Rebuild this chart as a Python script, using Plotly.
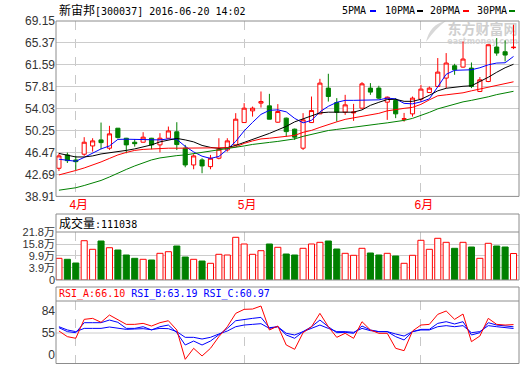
import plotly.graph_objects as go

W, H = 520, 365

# ---------------- data ----------------
DATES = [
    "2016-03-30", "2016-03-31",
    "2016-04-01", "2016-04-05", "2016-04-06", "2016-04-07", "2016-04-08",
    "2016-04-11", "2016-04-12", "2016-04-13", "2016-04-14", "2016-04-15",
    "2016-04-18", "2016-04-19", "2016-04-20", "2016-04-21", "2016-04-22",
    "2016-04-25", "2016-04-26", "2016-04-27", "2016-04-28", "2016-04-29",
    "2016-05-03", "2016-05-04", "2016-05-05", "2016-05-06",
    "2016-05-09", "2016-05-10", "2016-05-11", "2016-05-12", "2016-05-13",
    "2016-05-16", "2016-05-17", "2016-05-18", "2016-05-19", "2016-05-20",
    "2016-05-23", "2016-05-24", "2016-05-25", "2016-05-26", "2016-05-27",
    "2016-05-30", "2016-05-31",
    "2016-06-01", "2016-06-02", "2016-06-03", "2016-06-06", "2016-06-07",
    "2016-06-08", "2016-06-13", "2016-06-14", "2016-06-15", "2016-06-16",
    "2016-06-17", "2016-06-20",
]

OPEN = [43.76, 46.06, 45.19, 46.18, 47.61, 48.65, 47.22, 50.67, 48.94, 48.25,
        48.25, 48.94, 47.79, 48.94, 50.05, 47.22, 44.33, 45.20, 44.04, 45.49,
        46.92, 47.79, 51.64, 53.66, 54.99, 54.52, 51.70, 52.40, 50.50, 47.22,
        51.64, 53.14, 57.58, 55.09, 53.43, 53.30, 54.12, 57.58, 57.58, 55.16,
        55.44, 52.20, 53.14, 55.68, 56.82, 57.86, 59.31, 61.43, 61.20, 61.03,
        57.00, 58.72, 64.66, 63.85, 64.55]
HIGH = [46.35, 46.46, 45.90, 49.12, 48.94, 51.64, 51.07, 50.70, 49.00, 48.77,
        49.98, 49.00, 49.81, 50.95, 51.70, 47.79, 46.18, 45.49, 46.06, 48.94,
        48.94, 53.26, 54.99, 54.40, 57.00, 56.59, 54.82, 52.50, 50.60, 53.26,
        56.13, 59.18, 60.05, 55.85, 56.42, 54.86, 58.61, 58.44, 57.98, 56.13,
        55.85, 53.30, 56.13, 58.15, 57.86, 62.76, 63.62, 61.77, 65.63, 62.00,
        59.48, 65.10, 66.21, 65.80, 68.51]
LOW = [43.30, 44.67, 43.47, 45.90, 46.63, 47.04, 46.92, 48.90, 46.35, 47.49,
       48.20, 47.04, 46.50, 48.90, 46.90, 43.93, 43.59, 42.90, 43.59, 45.30,
       46.63, 47.70, 51.60, 52.67, 54.23, 52.20, 51.60, 49.22, 48.65, 46.92,
       51.60, 53.10, 55.26, 51.81, 52.97, 51.93, 54.00, 56.42, 55.68, 52.10,
       52.40, 51.80, 52.67, 55.26, 56.80, 57.80, 57.58, 59.88, 61.10, 57.58,
       56.90, 58.60, 63.16, 62.17, 64.30]
CLOSE = [45.89, 45.07, 44.90, 48.25, 48.48, 48.18, 49.69, 49.05, 47.79, 48.00,
         49.12, 47.79, 48.94, 50.20, 47.85, 44.33, 45.89, 44.16, 45.49, 47.04,
         48.48, 52.22, 54.12, 54.12, 55.26, 52.22, 53.54, 50.08, 49.12, 52.10,
         53.71, 58.44, 56.13, 53.43, 54.69, 53.45, 58.32, 56.89, 55.85, 56.02,
         53.14, 52.30, 55.85, 57.41, 57.58, 60.34, 61.90, 60.74, 62.59, 57.86,
         59.01, 65.06, 63.62, 63.28, 64.62]

MA5 = [45.32, 45.14, 44.97, 45.63, 46.32, 47.10, 47.61, 48.74, 48.77, 48.74,
       48.65, 48.56, 48.65, 48.82, 48.74, 47.53, 46.58, 45.84, 45.46, 45.80,
       47.01, 48.39, 50.20, 51.67, 53.05, 53.75, 53.83, 53.49, 52.36, 51.59,
       52.02, 53.49, 54.44, 55.13, 55.47, 55.47, 55.47, 55.47, 55.56, 55.85,
       55.73, 54.95, 54.87, 55.21, 55.73, 57.80, 59.96, 60.65, 60.74, 60.74,
       61.09, 61.60, 61.90, 61.95, 63.04]
MA10 = [46.32, 45.97, 45.71, 45.71, 45.89, 46.23, 46.41, 46.66, 46.84, 47.10,
        47.44, 47.79, 48.31, 48.65, 48.91, 48.65, 48.31, 47.70, 47.36, 47.18,
        47.32, 47.70, 48.22, 48.65, 49.26, 49.77, 50.38, 50.98, 51.76, 52.28,
        52.80, 53.31, 53.43, 53.43, 53.43, 53.43, 53.83, 54.61, 55.13, 55.61,
        55.65, 55.30, 55.30, 55.65, 56.34, 57.11, 57.55, 57.75, 57.89, 57.98,
        58.67, 59.45, 60.31, 61.09, 61.69]
MA20 = [42.61, 42.95, 43.38, 43.81, 44.28, 44.85, 45.46, 46.06, 46.49, 46.84,
        47.01, 47.10, 47.18, 47.22, 47.22, 47.22, 47.22, 47.22, 47.22, 47.22,
        47.30, 47.44, 48.05, 48.48, 48.82, 48.94, 49.08, 49.26, 49.43, 49.95,
        50.29, 50.81, 51.33, 51.76, 52.19, 52.45, 52.71, 52.97, 53.23, 53.66,
        53.92, 54.09, 54.26, 54.78, 55.56, 56.25, 56.42, 56.60, 56.77, 57.11,
        57.41, 57.80, 58.06, 58.32, 58.67]
MA30 = [39.98, 40.19, 40.40, 40.79, 41.22, 41.66, 42.26, 42.95, 43.56, 44.16,
        44.68, 45.20, 45.54, 45.80, 45.94, 46.06, 46.28, 46.49, 46.66, 46.84,
        47.10, 47.37, 47.61, 47.87, 48.10, 48.22, 48.39, 48.60, 48.82, 49.26,
        49.60, 49.95, 50.27, 50.46, 50.67, 50.86, 51.03, 51.21, 51.41, 51.59,
        51.76, 52.02, 52.36, 52.83, 53.40, 54.00, 54.44, 54.83, 55.21, 55.47,
        55.73, 56.08, 56.46, 56.77, 57.03]

# volume in 万 (10k lots)
VOLUME = [8.71, 8.22, 6.38, 17.47, 13.19, 17.32, 13.99, 12.85, 10.36, 8.71,
          8.22, 7.87, 11.20, 12.00, 14.84, 9.36, 8.22, 7.37, 6.23, 10.71,
          10.36, 19.16, 15.83, 10.71, 12.50, 15.83, 14.19, 10.86, 10.36, 13.69,
          15.83, 16.67, 17.32, 13.34, 11.20, 10.21, 13.69, 11.35, 10.36, 11.20,
          9.86, 6.23, 10.21, 17.67, 13.19, 18.66, 16.67, 13.69, 16.67, 14.34,
          8.71, 16.18, 14.84, 14.34, 11.10]

RSI_A = [57.6, 50.2, 48.0, 73.0, 74.3, 69.1, 78.7, 73.0, 66.4, 66.4,
         67.7, 64.2, 68.6, 71.2, 59.0, 20.3, 34.8, 24.7, 34.8, 50.2,
         63.3, 80.9, 86.2, 86.6, 90.6, 59.0, 64.2, 39.2, 33.5, 55.4,
         63.3, 80.9, 63.3, 49.3, 54.6, 48.0, 69.9, 59.0, 54.6, 54.6,
         34.8, 31.7, 57.6, 65.5, 66.4, 79.6, 84.0, 73.0, 80.0, 43.6,
         51.0, 74.3, 66.4, 65.5, 66.10]
RSI_B = [62.0, 56.8, 55.4, 68.6, 68.6, 68.6, 72.1, 69.1, 61.1, 61.1,
         63.3, 59.0, 63.3, 65.5, 55.4, 39.2, 44.4, 39.2, 44.4, 53.2,
         61.1, 71.2, 73.0, 74.3, 75.6, 62.0, 63.3, 52.4, 48.0, 56.8,
         63.3, 72.1, 63.3, 55.4, 55.9, 54.6, 64.2, 59.0, 56.8, 56.8,
         50.2, 45.8, 56.8, 59.8, 59.8, 67.7, 69.9, 66.9, 69.9, 52.4,
         55.4, 68.6, 65.5, 64.7, 63.19]
RSI_C = [63.3, 59.0, 56.8, 61.1, 61.1, 61.1, 62.9, 61.1, 59.8, 60.3,
         60.7, 59.4, 61.1, 60.7, 56.8, 49.3, 49.3, 47.1, 49.3, 53.7,
         57.6, 63.3, 65.5, 66.4, 67.3, 61.1, 63.3, 54.6, 52.4, 56.8,
         61.1, 65.5, 61.1, 56.8, 56.8, 55.9, 61.1, 58.1, 56.8, 56.8,
         53.7, 51.0, 56.8, 59.0, 59.0, 63.3, 64.7, 63.3, 64.7, 55.4,
         56.8, 64.7, 63.3, 62.5, 60.97]

PRICE_TICKS = [38.91, 42.69, 46.47, 50.25, 54.03, 57.81, 61.59, 65.37, 69.15]
VOL_TICK_VALS = [21.8, 15.8, 9.9, 3.9, -2.07]
VOL_TICK_TEXT = ["21.8万", "15.8万", "9.9万", "3.9万", "0"]
RSI_TICK_VALS = [84, 55, 26]
RSI_TICK_TEXT = ["84", "55", "0"]
MONTH_TICKS = ["2016-04-01", "2016-05-03", "2016-06-01"]
MONTH_TEXT = ["4月", "5月", "6月"]

TITLE = "新宙邦[300037] 2016-06-20 14:02"
VOL_TITLE = "成交量"
LAST_VOL = "111038"

# ---------------- style ----------------
RED = "#ff0000"
GREEN = "#008000"
BLUE = "#0000ff"
BLACK = "#000000"
GRID = "#cccccc"
BORDER = "#8c8c8c"
TXT = "#333333"
MONO = "DejaVu Sans Mono, Noto Sans CJK SC, monospace"
SANS = "Liberation Sans, Arial, Noto Sans CJK SC, sans-serif"


def px(x):
    return x / W


def py(y):
    return 1 - y / H


X0, X1 = px(56), px(519)
VOL_FLOOR = VOL_TICK_VALS[-1]

up = [c >= o for o, c in zip(OPEN, CLOSE)]

fig = go.Figure()

fig.add_trace(go.Candlestick(
    x=DATES, open=OPEN, high=HIGH, low=LOW, close=CLOSE,
    increasing=dict(line=dict(color=RED, width=1), fillcolor="#ffffff"),
    decreasing=dict(line=dict(color=GREEN, width=1), fillcolor=GREEN),
    whiskerwidth=0, showlegend=False, xaxis="x", yaxis="y", name="K"))

for name, vals, col in [("5PMA", MA5, BLUE), ("10PMA", MA10, BLACK),
                        ("20PMA", MA20, RED), ("30PMA", MA30, GREEN)]:
    fig.add_trace(go.Scatter(x=DATES, y=vals, mode="lines", name=name,
                             line=dict(color=col, width=1), showlegend=False,
                             xaxis="x", yaxis="y"))

fig.add_trace(go.Bar(
    x=DATES, y=[v - VOL_FLOOR for v in VOLUME], base=VOL_FLOOR, width=0.72,
    marker=dict(color=["#ffffff" if u else GREEN for u in up],
                line=dict(color=[RED if u else GREEN for u in up], width=1)),
    showlegend=False, xaxis="x2", yaxis="y2", name="VOL"))

for name, vals, col in [("RSI_C", RSI_C, BLUE), ("RSI_B", RSI_B, BLUE),
                        ("RSI_A", RSI_A, RED)]:
    fig.add_trace(go.Scatter(x=DATES, y=vals, mode="lines", name=name,
                             line=dict(color=col, width=1), showlegend=False,
                             xaxis="x3", yaxis="y3"))

xcommon = dict(type="category", range=[-0.35, 54.65], domain=[X0, X1],
               tickvals=MONTH_TICKS, showgrid=True, gridcolor="#c8c8c8",
               griddash="dash", gridwidth=1, zeroline=False, showline=False,
               ticks="", fixedrange=True, automargin=False)

fig.update_layout(
    width=W, height=H, margin=dict(l=0, r=0, t=0, b=0, pad=0, autoexpand=False),
    paper_bgcolor="#ffffff", plot_bgcolor="#ffffff", showlegend=False,
    bargap=0,
    xaxis=dict(**xcommon, anchor="y", ticktext=MONTH_TEXT,
               tickfont=dict(family=SANS, size=12, color=RED),
               rangeslider=dict(visible=False), ticklabelshift=3),
    xaxis2=dict(**xcommon, anchor="y2", matches="x", showticklabels=False),
    xaxis3=dict(**xcommon, anchor="y3", matches="x", showticklabels=False),
    yaxis=dict(domain=[py(196.4), py(21)], range=[PRICE_TICKS[0], PRICE_TICKS[-1]],
               tickvals=PRICE_TICKS, ticktext=["%.2f" % v for v in PRICE_TICKS],
               showgrid=True, gridcolor=GRID, zeroline=False, showline=False,
               ticks="", tickfont=dict(family=SANS, size=12, color=TXT),
               anchor="x", fixedrange=True, automargin=False),
    yaxis2=dict(domain=[py(280), py(232)], range=[VOL_FLOOR, VOL_TICK_VALS[0]],
                tickvals=VOL_TICK_VALS, ticktext=VOL_TICK_TEXT,
                showgrid=True, gridcolor=GRID, zeroline=False, showline=False,
                ticks="", tickfont=dict(family=SANS, size=11, color=TXT),
                anchor="x2", fixedrange=True, automargin=False),
    yaxis3=dict(domain=[py(363), py(301)], range=[15.45, 97.2],
                tickvals=RSI_TICK_VALS, ticktext=RSI_TICK_TEXT,
                showgrid=False, zeroline=False, showline=False,
                ticks="", tickfont=dict(family=SANS, size=12, color=TXT),
                anchor="x3", fixedrange=True, automargin=False),
)

shapes = []
# RSI mid line
shapes.append(dict(type="line", xref="paper", yref="y3", x0=X0, x1=X1,
                   y0=RSI_TICK_VALS[1], y1=RSI_TICK_VALS[1],
                   line=dict(color=GRID, width=1), layer="below"))
# panel borders
for top, bot, sep in [(21, 196.4, None), (214, 280, 232), (287, 363.5, 301)]:
    shapes.append(dict(type="rect", xref="paper", yref="paper", x0=X0, x1=X1,
                       y0=py(bot), y1=py(top), line=dict(color=BORDER, width=1)))
    if sep is not None:
        shapes.append(dict(type="line", xref="paper", yref="paper", x0=X0, x1=X1,
                           y0=py(sep), y1=py(sep), line=dict(color=BORDER, width=1)))

# watermark (below traces)
shapes.append(dict(type="rect", xref="paper", yref="paper", x0=px(445), x1=px(520),
                   y0=py(37), y1=py(22), line=dict(width=0), layer="below",
                   label=dict(text="<b>东方财富网</b>", textposition="middle center",
                              font=dict(family="Noto Sans CJK SC", size=14, color="#cfcfcf"))))
shapes.append(dict(type="rect", xref="paper", yref="paper", x0=px(446), x1=px(519),
                   y0=py(44), y1=py(36), line=dict(width=0), layer="below",
                   label=dict(text="<b>eastmoney.com</b>", textposition="middle center",
                              font=dict(family="DejaVu Sans", size=8, color="#d6d6d6"))))
shapes.append(dict(type="path", xref="paper", yref="paper", layer="below",
                   path="M %f %f Q %f %f %f %f Q %f %f %f %f Z" % (
                       px(426), py(42), px(430), py(24), px(446), py(21),
                       px(436), py(28), px(426), py(42)),
                   fillcolor="#d8d8d8", line=dict(width=0)))

# legend dashes
for x0, col in [(370, BLUE), (417, BLACK), (463, RED), (509, GREEN)]:
    shapes.append(dict(type="line", xref="paper", yref="paper",
                       x0=px(x0), x1=px(x0 + 6), y0=py(11), y1=py(11),
                       line=dict(color=col, width=2)))
fig.update_layout(shapes=shapes)

ann = []
ann.append(dict(x=px(57), y=py(10.5), xref="paper", yref="paper", xanchor="left",
                yanchor="middle", showarrow=False,
                text="<span style='font-size:12px'>%s</span>%s" % (TITLE[:3], TITLE[3:]),
                font=dict(family=MONO, size=10, color=BLACK)))
for x0, lab in [(340, "5PMA"), (383, "10PMA"), (428, "20PMA"), (475, "30PMA")]:
    ann.append(dict(x=px(x0), y=py(10.5), xref="paper", yref="paper", xanchor="left",
                    yanchor="middle", showarrow=False, text=lab,
                    font=dict(family=MONO, size=10, color=BLACK)))
ann.append(dict(x=px(57), y=py(223), xref="paper", yref="paper", xanchor="left",
                yanchor="middle", showarrow=False,
                text="<span style='font-size:12px'>%s</span>:%s" % (VOL_TITLE, LAST_VOL),
                font=dict(family=MONO, size=10, color=BLACK)))
ann.append(dict(x=px(57), y=py(294), xref="paper", yref="paper", xanchor="left",
                yanchor="middle", showarrow=False,
                text=("<span style='color:%s'>RSI_A:%.2f</span> "
                      "<span style='color:%s'>RSI_B:%.2f</span> "
                      "<span style='color:%s'>RSI_C:%.2f</span>") % (
                          RED, RSI_A[-1], BLUE, RSI_B[-1], BLUE, RSI_C[-1]),
                font=dict(family=MONO, size=10, color=BLACK)))
fig.update_layout(annotations=ann)

fig.write_html("out.html",
               config={"displayModeBar": False, "staticPlot": True},
               post_script="document.body.style.margin='0';"
                           "document.body.style.overflow='hidden';")
